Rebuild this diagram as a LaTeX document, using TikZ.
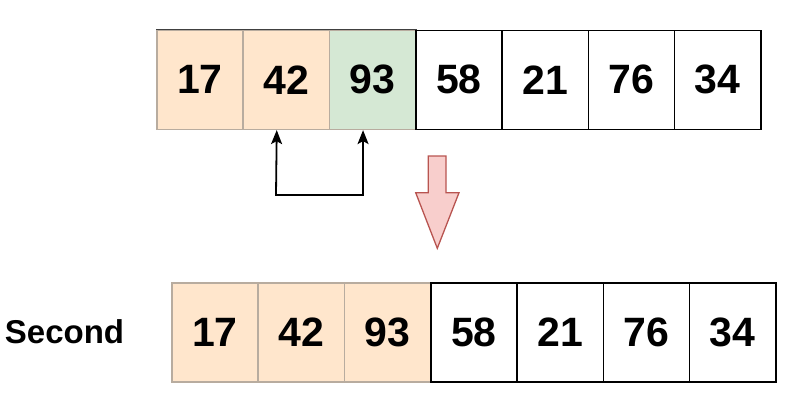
\documentclass[tikz,border=0pt]{standalone}
\usepackage{fontspec}
\setmainfont{Liberation Sans}
\usetikzlibrary{arrows.meta}
\definecolor{orangefill}{HTML}{FFE6CC}
\definecolor{greenfill}{HTML}{D5E8D4}
\definecolor{softborder}{HTML}{B8AC9F}
\definecolor{redfill}{HTML}{F8CECC}
\definecolor{redline}{HTML}{B85450}
\tikzset{
  cell/.style={rectangle, draw=black, line width=1.6pt, minimum width=86.3pt, minimum height=99pt,
    inner sep=0pt, anchor=north west, font=\fontsize{41}{46}\selectfont\bfseries},
  orangecell/.style={cell, fill=orangefill, draw=softborder},
  greencell/.style={cell, fill=greenfill, draw=softborder},
  conn/.style={line width=1.8pt, >={Stealth[length=14pt,width=11pt,inset=3pt]}, <->},
  bigarrow/.style={fill=redfill, draw=redline, line width=1.3pt, line join=miter},
  label/.style={font=\fontsize{33}{38}\selectfont\bfseries, inner sep=0pt}
}
\begin{document}
\begin{tikzpicture}[x=1pt,y=-1pt]
\useasboundingbox (0,0) rectangle (793,418);
% top row
\node[orangecell] (t1) at (156,29.5) {17};
\node[orangecell] (t2) at (156+86.3,29.5) {42};
\node[greencell]  (t3) at (156+2*86.3,29.5) {93};
\node[cell] (t4) at (156+3*86.3,29.5) {58};
\node[cell] (t5) at (156+4*86.3,29.5) {21};
\node[cell] (t6) at (156+5*86.3,29.5) {76};
\node[cell] (t7) at (156+6*86.3,29.5) {34};
\draw[line width=1.6pt, black!75] (t1.north west) -- (t3.north east);
% bottom row
\node[orangecell] (b1) at (171,282) {17};
\node[orangecell] (b2) at (171+86.3,282) {42};
\node[orangecell] (b3) at (171+2*86.3,282) {93};
\node[cell] (b4) at (171+3*86.3,282) {58};
\node[cell] (b5) at (171+4*86.3,282) {21};
\node[cell] (b6) at (171+5*86.3,282) {76};
\node[cell] (b7) at (171+6*86.3,282) {34};
\node[label] (second) at (64.5,331.5) {Second};
% swap connector
\coordinate (k) at (276,195);
\draw[conn] ([xshift=-9.5pt]t2.south) -- (k) -| ([xshift=-9.5pt]t3.south);
% big down arrow
\draw[bigarrow] (428.3,156) -- (446,156) -- (446,192.7) -- (459,192.7) -- (437.3,248.3)
  -- (415.7,192.7) -- (428.3,192.7) -- cycle;
\end{tikzpicture}
\end{document}
